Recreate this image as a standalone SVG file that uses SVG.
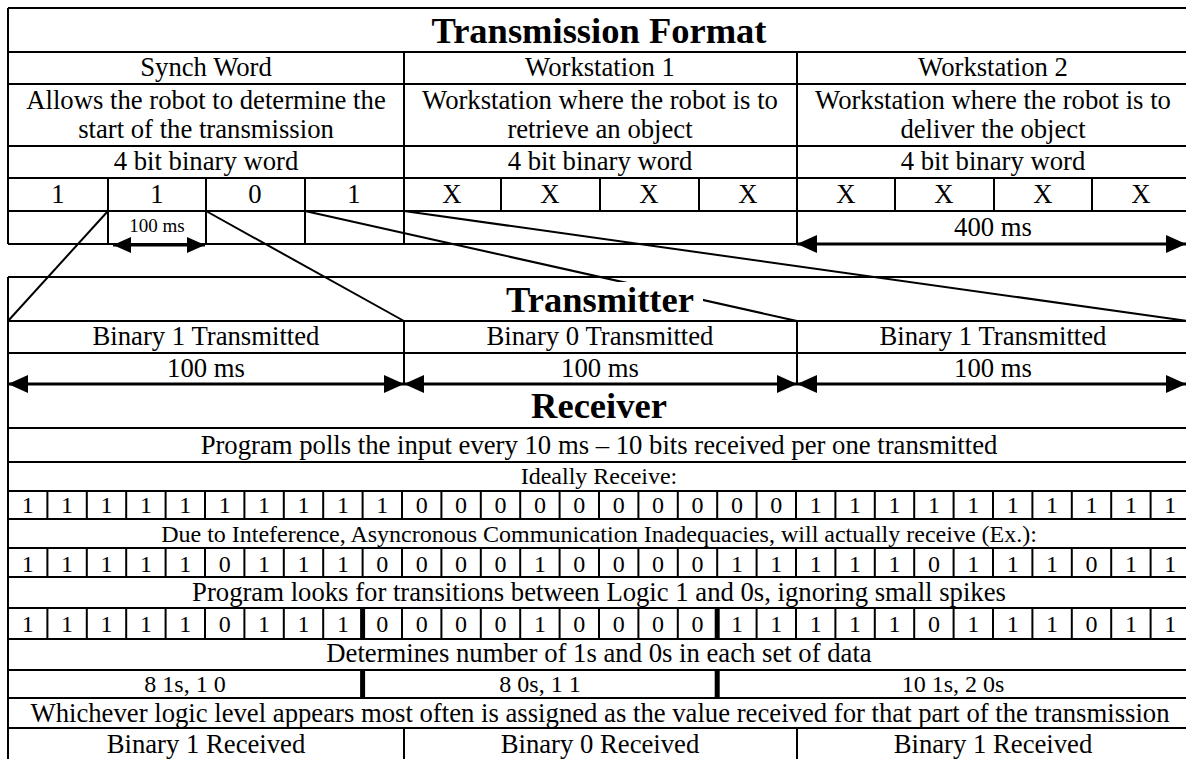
<svg xmlns="http://www.w3.org/2000/svg" width="1186" height="759" viewBox="0 0 1186 759">
<style>
.ln{stroke:#000;stroke-width:2;fill:none}
.thk{stroke:#000;stroke-width:5;fill:none}
.t{font-family:"Liberation Serif","Times New Roman",serif;font-size:26.7px;text-anchor:middle;fill:#000}
.s{font-size:24px}
.xs{font-size:19px}
.h{font-weight:bold;font-size:36.5px}
.arr{stroke:#000;stroke-width:3;fill:none;marker-start:url(#ah);marker-end:url(#ah)}
.arrs{stroke:#000;stroke-width:3;fill:none;marker-start:url(#ahs);marker-end:url(#ahs)}
</style>
<defs>
<marker id="ah" markerUnits="userSpaceOnUse" viewBox="0 0 20 20" markerWidth="20" markerHeight="20" refX="20" refY="10" orient="auto-start-reverse"><path d="M0,1 L20,10 L0,19 z" fill="#000"/></marker>
<marker id="ahs" markerUnits="userSpaceOnUse" viewBox="0 0 18 18" markerWidth="18" markerHeight="18" refX="18" refY="9" orient="auto-start-reverse"><path d="M0,1 L18,9 L0,17 z" fill="#000"/></marker>
</defs>
<rect width="1186" height="759" fill="#fff"/>

<g id="connectors">
<line class="ln" x1="108" y1="211" x2="8" y2="321"/>
<line class="ln" x1="206" y1="211" x2="404" y2="321"/>
<line class="ln" x1="305" y1="211" x2="797" y2="321"/>
<line class="ln" x1="404" y1="211" x2="1188" y2="321"/>
</g>

<g id="transmission-format">
<path class="ln" d="M8,8 H1190 M8,52 H1190 M8,84 H1190 M8,146 H1190 M8,178 H1190 M8,211 H1190 M8,244 H1190 M8,8 V244 M404,52 V244 M797,52 V244 M108,178 V244 M206,178 V244 M305,178 V244 M501,178 V211 M600,178 V211 M699,178 V211 M895,178 V211 M994,178 V211 M1092,178 V211"/>
<text class="t h" x="599" y="43">Transmission Format</text>
<text class="t" x="206" y="76">Synch Word</text>
<text class="t" x="600" y="76">Workstation 1</text>
<text class="t" x="993" y="76">Workstation 2</text>
<text class="t" x="206" y="109">Allows the robot to determine the</text>
<text class="t" x="206" y="138">start of the transmission</text>
<text class="t" x="600" y="109">Workstation where the robot is to</text>
<text class="t" x="600" y="138">retrieve an object</text>
<text class="t" x="993" y="109">Workstation where the robot is to</text>
<text class="t" x="993" y="138">deliver the object</text>
<text class="t" x="206" y="170">4 bit binary word</text>
<text class="t" x="600" y="170">4 bit binary word</text>
<text class="t" x="993" y="170">4 bit binary word</text>
<text class="t" x="58" y="203">1</text>
<text class="t" x="157" y="203">1</text>
<text class="t" x="255" y="203">0</text>
<text class="t" x="354" y="203">1</text>
<text class="t" x="452" y="203">X</text>
<text class="t" x="550" y="203">X</text>
<text class="t" x="649" y="203">X</text>
<text class="t" x="748" y="203">X</text>
<text class="t" x="846" y="203">X</text>
<text class="t" x="944" y="203">X</text>
<text class="t" x="1043" y="203">X</text>
<text class="t" x="1141" y="203">X</text>
<text class="t xs" x="157" y="232">100 ms</text>
<line class="arrs" x1="113" y1="245" x2="205" y2="245"/>
<text class="t" x="993" y="236">400 ms</text>
<line class="arr" x1="797" y1="244" x2="1186" y2="244"/>
</g>

<g id="transmitter">
<path class="ln" d="M8,277 H1190 M8,321 H1190 M8,353 H1190 M8,277 V428 M404,321 V384 M797,321 V384"/>
<rect x="500" y="282" width="203" height="37" fill="#fff"/>
<text class="t h" x="600" y="312">Transmitter</text>
<text class="t" x="206" y="345">Binary 1 Transmitted</text>
<text class="t" x="600" y="345">Binary 0 Transmitted</text>
<text class="t" x="993" y="345">Binary 1 Transmitted</text>
<text class="t" x="206" y="377">100 ms</text>
<text class="t" x="600" y="377">100 ms</text>
<text class="t" x="993" y="377">100 ms</text>
<line class="arr" x1="8" y1="384" x2="404" y2="384"/>
<line class="arr" x1="404" y1="384" x2="797" y2="384"/>
<line class="arr" x1="797" y1="384" x2="1186" y2="384"/>
</g>

<g id="receiver">
<path class="ln" d="M8,428 H1190 M8,462 H1190 M8,491 H1190 M8,519 H1190 M8,548 H1190 M8,577 H1190 M8,608 H1190 M8,639 H1190 M8,670 H1190 M8,698 H1190 M8,728 H1190 M8,428 V759 M404,728 V759 M797,728 V759"/>
<path class="ln" d="M47.4,491V519M86.8,491V519M126.2,491V519M165.6,491V519M205,491V519M244.4,491V519M283.8,491V519M323.2,491V519M362.6,491V519M402,491V519M441.4,491V519M480.8,491V519M520.2,491V519M559.6,491V519M599,491V519M638.4,491V519M677.8,491V519M717.2,491V519M756.6,491V519M796,491V519M835.4,491V519M874.8,491V519M914.2,491V519M953.6,491V519M993,491V519M1032.4,491V519M1071.8,491V519M1111.2,491V519M1150.6,491V519"/>
<path class="ln" d="M47.4,548V577M86.8,548V577M126.2,548V577M165.6,548V577M205,548V577M244.4,548V577M283.8,548V577M323.2,548V577M362.6,548V577M402,548V577M441.4,548V577M480.8,548V577M520.2,548V577M559.6,548V577M599,548V577M638.4,548V577M677.8,548V577M717.2,548V577M756.6,548V577M796,548V577M835.4,548V577M874.8,548V577M914.2,548V577M953.6,548V577M993,548V577M1032.4,548V577M1071.8,548V577M1111.2,548V577M1150.6,548V577"/>
<path class="ln" d="M47.4,608V639M86.8,608V639M126.2,608V639M165.6,608V639M205,608V639M244.4,608V639M283.8,608V639M323.2,608V639M402,608V639M441.4,608V639M480.8,608V639M520.2,608V639M559.6,608V639M599,608V639M638.4,608V639M677.8,608V639M756.6,608V639M796,608V639M835.4,608V639M874.8,608V639M914.2,608V639M953.6,608V639M993,608V639M1032.4,608V639M1071.8,608V639M1111.2,608V639M1150.6,608V639"/>
<path class="thk" d="M362.6,608V639M717.2,608V639M362.6,670V698M717.2,670V698"/>
<text class="t h" x="599" y="418">Receiver</text>
<text class="t" x="599" y="454">Program polls the input every 10 ms – 10 bits received per one transmitted</text>
<text class="t s" x="599" y="484">Ideally Receive:</text>
<g class="t s">
<text x="27.7" y="513">1</text><text x="67.1" y="513">1</text><text x="106.5" y="513">1</text><text x="145.9" y="513">1</text><text x="185.3" y="513">1</text><text x="224.7" y="513">1</text><text x="264.1" y="513">1</text><text x="303.5" y="513">1</text><text x="342.9" y="513">1</text><text x="382.3" y="513">1</text>
<text x="421.7" y="513">0</text><text x="461.1" y="513">0</text><text x="500.5" y="513">0</text><text x="539.9" y="513">0</text><text x="579.3" y="513">0</text><text x="618.7" y="513">0</text><text x="658.1" y="513">0</text><text x="697.5" y="513">0</text><text x="736.9" y="513">0</text><text x="776.3" y="513">0</text>
<text x="815.7" y="513">1</text><text x="855.1" y="513">1</text><text x="894.5" y="513">1</text><text x="933.9" y="513">1</text><text x="973.3" y="513">1</text><text x="1012.7" y="513">1</text><text x="1052.1" y="513">1</text><text x="1091.5" y="513">1</text><text x="1130.9" y="513">1</text><text x="1170.3" y="513">1</text>
</g>
<text class="t s" x="599" y="542">Due to Inteference, Asyncronous Communication Inadequacies, will actually receive (Ex.):</text>
<g class="t s">
<text x="27.7" y="572">1</text><text x="67.1" y="572">1</text><text x="106.5" y="572">1</text><text x="145.9" y="572">1</text><text x="185.3" y="572">1</text><text x="224.7" y="572">0</text><text x="264.1" y="572">1</text><text x="303.5" y="572">1</text><text x="342.9" y="572">1</text><text x="382.3" y="572">0</text>
<text x="421.7" y="572">0</text><text x="461.1" y="572">0</text><text x="500.5" y="572">0</text><text x="539.9" y="572">1</text><text x="579.3" y="572">0</text><text x="618.7" y="572">0</text><text x="658.1" y="572">0</text><text x="697.5" y="572">0</text><text x="736.9" y="572">1</text><text x="776.3" y="572">1</text>
<text x="815.7" y="572">1</text><text x="855.1" y="572">1</text><text x="894.5" y="572">1</text><text x="933.9" y="572">0</text><text x="973.3" y="572">1</text><text x="1012.7" y="572">1</text><text x="1052.1" y="572">1</text><text x="1091.5" y="572">0</text><text x="1130.9" y="572">1</text><text x="1170.3" y="572">1</text>
</g>
<text class="t" x="599" y="601">Program looks for transitions between Logic 1 and 0s, ignoring small spikes</text>
<g class="t s">
<text x="27.7" y="632">1</text><text x="67.1" y="632">1</text><text x="106.5" y="632">1</text><text x="145.9" y="632">1</text><text x="185.3" y="632">1</text><text x="224.7" y="632">0</text><text x="264.1" y="632">1</text><text x="303.5" y="632">1</text><text x="342.9" y="632">1</text><text x="382.3" y="632">0</text>
<text x="421.7" y="632">0</text><text x="461.1" y="632">0</text><text x="500.5" y="632">0</text><text x="539.9" y="632">1</text><text x="579.3" y="632">0</text><text x="618.7" y="632">0</text><text x="658.1" y="632">0</text><text x="697.5" y="632">0</text><text x="736.9" y="632">1</text><text x="776.3" y="632">1</text>
<text x="815.7" y="632">1</text><text x="855.1" y="632">1</text><text x="894.5" y="632">1</text><text x="933.9" y="632">0</text><text x="973.3" y="632">1</text><text x="1012.7" y="632">1</text><text x="1052.1" y="632">1</text><text x="1091.5" y="632">0</text><text x="1130.9" y="632">1</text><text x="1170.3" y="632">1</text>
</g>
<text class="t" x="599" y="662">Determines number of 1s and 0s in each set of data</text>
<text class="t s" x="185" y="692">8 1s, 1 0</text>
<text class="t s" x="540" y="692">8 0s, 1 1</text>
<text class="t s" x="953" y="692">10 1s, 2 0s</text>
<text class="t" x="600" y="722">Whichever logic level appears most often is assigned as the value received for that part of the transmission</text>
<text class="t" x="206" y="753">Binary 1 Received</text>
<text class="t" x="600" y="753">Binary 0 Received</text>
<text class="t" x="993" y="753">Binary 1 Received</text>
</g>
</svg>
